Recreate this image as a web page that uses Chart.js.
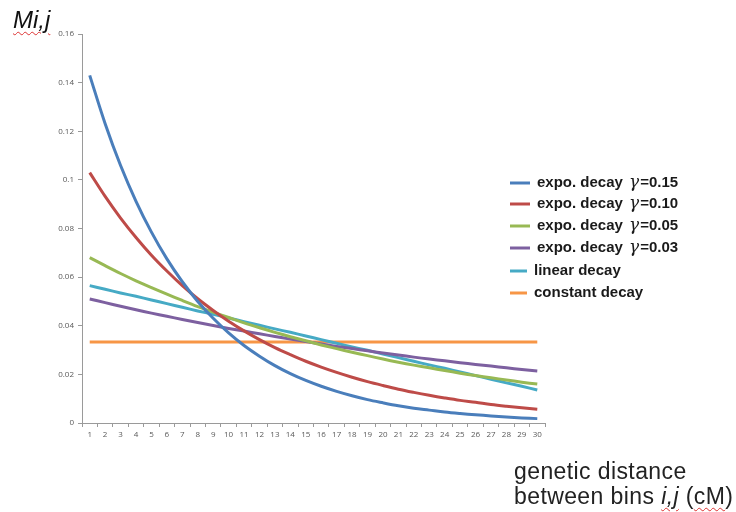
<!DOCTYPE html>
<html lang="en">
<head>
    <meta charset="UTF-8">
    <title>Mi,j decay</title>
    <script src="https://cdn.jsdelivr.net/npm/chart.js@4.4.1/dist/chart.umd.min.js"></script>
    <style>
        body{ margin:0; background:#fff; }
        #board{ position:relative; width:736px; height:512px; }
        .ytitle{ position:absolute; left:13px; top:6px; font:italic 24px "Liberation Sans", Arial, sans-serif; color:#111; }
        .xtitle{ position:absolute; left:514px; top:459px; font:23px "Liberation Sans", Arial, sans-serif; letter-spacing:0.4px; color:#222; line-height:25px; }
        .squig{ text-decoration:underline wavy #d33; text-decoration-thickness:1px; text-underline-offset:3px; }
    </style>
</head>
<body>
    <div id="board">
        <canvas id="chart1"></canvas>
        <div class="ytitle"><span class="squig">Mi,j</span></div>
        <div class="xtitle">genetic distance<br>between bins <i class="squig">i,j</i> (<span class="squig">cM</span>)</div>
    </div>
<script>
    // bins 1..30
    const bins = [1,2,3,4,5,6,7,8,9,10,11,12,13,14,15,16,17,18,19,20,21,22,23,24,25,26,27,28,29,30];

    const expo15 = [0.1430,0.1231,0.1059,0.0912,0.0785,0.0675,0.0581,0.0500,0.0431,0.0371,
                    0.0319,0.0275,0.0236,0.0203,0.0175,0.0151,0.0130,0.0112,0.0096,0.0083,
                    0.0071,0.0061,0.0053,0.0045,0.0039,0.0034,0.0029,0.0025,0.0021,0.0018];
    const expo10 = [0.1030,0.0932,0.0843,0.0763,0.0690,0.0625,0.0565,0.0511,0.0463,0.0419,
                    0.0379,0.0343,0.0310,0.0281,0.0254,0.0230,0.0208,0.0188,0.0170,0.0154,
                    0.0139,0.0126,0.0114,0.0103,0.0093,0.0085,0.0076,0.0069,0.0063,0.0057];
    const expo05 = [0.0680,0.0647,0.0615,0.0585,0.0557,0.0530,0.0504,0.0479,0.0456,0.0434,
                    0.0412,0.0392,0.0373,0.0355,0.0338,0.0321,0.0306,0.0291,0.0277,0.0263,
                    0.0250,0.0238,0.0227,0.0216,0.0205,0.0195,0.0186,0.0177,0.0168,0.0160];
    const expo03 = [0.0510,0.0495,0.0480,0.0466,0.0452,0.0439,0.0426,0.0413,0.0401,0.0389,
                    0.0378,0.0367,0.0356,0.0345,0.0335,0.0325,0.0315,0.0306,0.0297,0.0288,
                    0.0280,0.0271,0.0263,0.0256,0.0248,0.0241,0.0234,0.0227,0.0220,0.0214];
    const linear = [0.0565,0.0550,0.0535,0.0521,0.0506,0.0491,0.0476,0.0461,0.0447,0.0432,
                    0.0417,0.0402,0.0387,0.0373,0.0358,0.0343,0.0328,0.0313,0.0299,0.0284,
                    0.0269,0.0254,0.0239,0.0225,0.0210,0.0195,0.0180,0.0165,0.0151,0.0136];
    const constant = [0.0333,0.0333,0.0333,0.0333,0.0333,0.0333,0.0333,0.0333,0.0333,0.0333,
                      0.0333,0.0333,0.0333,0.0333,0.0333,0.0333,0.0333,0.0333,0.0333,0.0333,
                      0.0333,0.0333,0.0333,0.0333,0.0333,0.0333,0.0333,0.0333,0.0333,0.0333];

    const seriesNames = ['expo. decay ', 'expo. decay ', 'expo. decay ', 'expo. decay ', 'linear decay', 'constant decay'];
    const gammas = ['0.15', '0.10', '0.05', '0.03', null, null];
    const colors = ['#4a7ebb', '#be4b48', '#98b954', '#7d60a0', '#46aac5', '#f79646'];
    const allData = [expo15, expo10, expo05, expo03, linear, constant];

    // legend drawn by hand on the right side (rows are not evenly spaced)
    const legendRows = [183, 204, 226, 248, 271, 293];
    const labelFont = 'bold 15px "Liberation Sans", Arial, sans-serif';
    const sideLegend = {
        id: 'sideLegend',
        afterDraw(chart){
            const ctx = chart.ctx;
            ctx.save();
            chart.data.datasets.forEach((ds, i) => {
                const y = legendRows[i];
                const isExpo = gammas[i] !== null;
                const x0 = 510, x1 = isExpo ? 530 : 527;
                ctx.strokeStyle = ds.borderColor;
                ctx.lineWidth = 3;
                ctx.beginPath(); ctx.moveTo(x0, y); ctx.lineTo(x1, y); ctx.stroke();
                let tx = isExpo ? 537 : 534;
                ctx.fillStyle = '#1a1a1a';
                ctx.textBaseline = 'middle';
                ctx.font = labelFont;
                ctx.fillText(seriesNames[i], tx, y);
                if (isExpo){
                    tx += ctx.measureText(seriesNames[i]).width + 2;
                    ctx.font = 'italic 17px "DejaVu Serif", serif';
                    ctx.fillText('\u03B3', tx, y);
                    tx += ctx.measureText('\u03B3').width + 1;
                    ctx.font = labelFont;
                    ctx.fillText('=' + gammas[i], tx, y);
                }
            });
            ctx.restore();
        }
    };

    const tickFont = { family: '"Open Sans", sans-serif', size: 8 };

    new Chart(document.getElementById('chart1'), {
        type: 'line',
        data: {
            labels: bins,
            datasets: allData.map((d, i) => ({
                label: seriesNames[i] + (gammas[i] ? 'γ=' + gammas[i] : ''),
                data: d,
                borderColor: colors[i],
                backgroundColor: colors[i],
                borderWidth: 3,
                pointRadius: 0,
                tension: 0.35,
                fill: false
            }))
        },
        options: {
            responsive: true,
            maintainAspectRatio: false,
            animation: false,
            layout: { padding: { top: 34, right: 191, bottom: 0, left: 0 } },
            plugins: { legend: { display: false }, tooltip: { enabled: false } },
            scales: {
                x: {
                    offset: true,
                    afterFit(s){ s.height = 89; },
                    grid: { display: true, drawOnChartArea: false, offset: true, tickLength: 4, color: '#9a9a9a' },
                    border: { color: '#9a9a9a', width: 1 },
                    ticks: { color: '#595959', font: tickFont, maxRotation: 0, autoSkip: false, padding: 3 }
                },
                y: {
                    min: 0,
                    max: 0.16,
                    afterFit(s){ s.width = 82; },
                    grid: { display: true, drawOnChartArea: false, tickLength: 4, color: '#9a9a9a' },
                    border: { color: '#9a9a9a', width: 1 },
                    ticks: {
                        stepSize: 0.02,
                        color: '#595959',
                        font: tickFont,
                        padding: 4,
                        callback: v => String(+v.toFixed(2))
                    }
                }
            }
        },
        plugins: [sideLegend]
    });
</script>
</body>
</html>
